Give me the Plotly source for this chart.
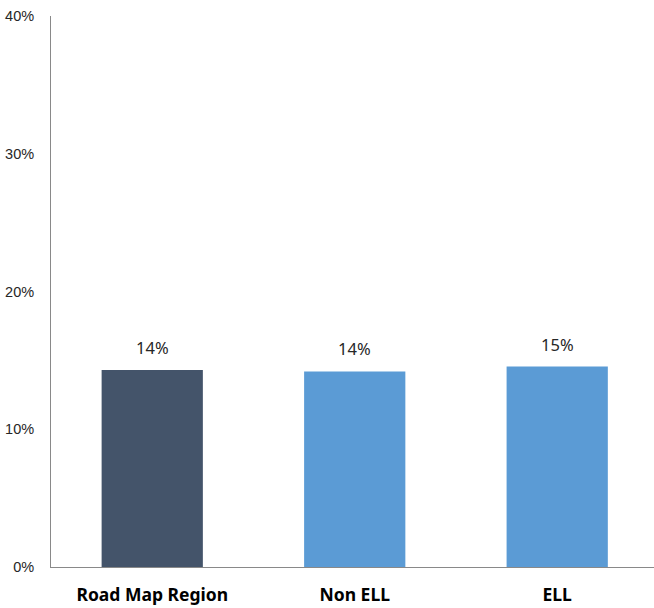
import plotly.graph_objects as go

categories = ["Road Map Region", "Non ELL", "ELL"]
values = [0.143, 0.142, 0.1455]
labels = ["14%", "14%", "15%"]
colors = ["#44546A", "#5B9BD5", "#5B9BD5"]
y_ticks = [0, 0.1, 0.2, 0.3, 0.4]
y_tick_labels = ["0%", "10%", "20%", "30%", "40%"]

fig = go.Figure()
fig.add_trace(go.Bar(x=categories, y=values, marker=dict(color=colors, line=dict(width=0)),
                     width=0.5, hoverinfo="skip"))

for c, v, t in zip(categories, values, labels):
    fig.add_annotation(x=c, y=v, text=t, showarrow=False, yanchor="bottom", yshift=9,
                       font=dict(family="Noto Sans, Liberation Sans, sans-serif", size=16.5, color="#262626"))

fig.update_layout(
    width=654, height=608,
    margin=dict(l=51, r=0, t=16, b=41, autoexpand=False),
    plot_bgcolor="white", paper_bgcolor="white",
    showlegend=False,
)
fig.update_xaxes(range=[-0.5, 2.478], showline=True, linecolor="#898989", linewidth=1,
                 showgrid=False, ticks="outside", ticklen=12, tickcolor="rgba(0,0,0,0)",
                 tickfont=dict(family="Noto Sans, Liberation Sans, sans-serif", size=17.5, color="#000000"),
                 tickprefix="<b>", ticksuffix="</b>", fixedrange=True, automargin=False)
fig.update_yaxes(range=[0, 0.4], tickvals=y_ticks, ticktext=y_tick_labels, showline=True,
                 linecolor="#898989", linewidth=1, showgrid=False, zeroline=False,
                 ticks="outside", ticklen=13, tickcolor="rgba(0,0,0,0)", automargin=False,
                 fixedrange=True,
                 tickfont=dict(family="Liberation Sans, Arial, sans-serif", size=14.5, color="#262626"))

fig.write_html("out.html", config={"displayModeBar": False},
               post_script="document.body.style.margin='0';document.body.style.overflow='hidden';")
